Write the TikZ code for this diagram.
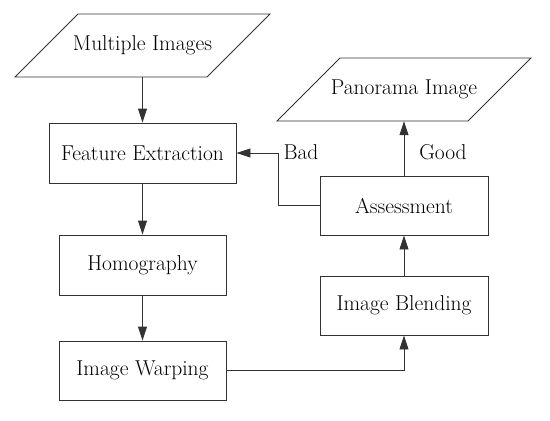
\documentclass[tikz,border=0pt]{standalone}
\usetikzlibrary{arrows.meta}
\begin{document}
\begin{tikzpicture}[x=1pt,y=-1pt,
  every node/.style={font=\fontsize{21.5}{25}\selectfont, text=black},
  box/.style={draw=black!80, line width=0.9pt, rectangle, inner sep=0pt, minimum height=60pt},
  io/.style={rectangle, inner sep=0pt, minimum height=63pt, minimum width=192pt},
  para/.style={draw=black!80, line width=0.9pt, line join=miter},
  arr/.style={draw=black!80, line width=0.9pt, -{Triangle[length=14pt,width=9pt]}},
  lbl/.style={inner sep=0pt}]
\useasboundingbox (0,0) rectangle (550,421);
% input / output
\node[io] (multi) at (142.5,45.5) {Multiple Images};
\draw[para] (78,14) -- (270,14) -- (207,77) -- (15,77) -- cycle;
\node[io] (pano) at (404,89.5) {Panorama Image};
\draw[para] (340,58) -- (531,58) -- (468,121) -- (277,121) -- cycle;
% process boxes
\node[box, minimum width=187pt] (feat) at (142.5,153) {Feature Extraction};
\node[box, minimum width=167pt] (homo) at (142.5,265) {Homography};
\node[box, minimum width=167pt, minimum height=59pt] (warp) at (142.5,370.5) {Image Warping};
\node[box, minimum width=168pt, minimum height=59pt] (blend) at (404,305.5) {Image Blending};
\node[box, minimum width=168pt, minimum height=59pt] (assess) at (404,205.5) {Assessment};
% connectors
\draw[arr] (multi.south) -- (feat.north);
\draw[arr] (feat.south) -- (homo.north);
\draw[arr] (homo.south) -- (warp.north);
\draw[arr] (warp.east) -| (blend.south);
\draw[arr] (blend.north) -- (assess.south);
\draw[arr] (assess.north) -- (pano.south);
\coordinate (bend) at (278,205.5);
\draw[arr] (assess.west) -- (bend) |- (feat.east);
% labels
\node[lbl] (good) at (443,152) {Good};
\node[lbl] (bad) at (301,152) {Bad};
\end{tikzpicture}
\end{document}
